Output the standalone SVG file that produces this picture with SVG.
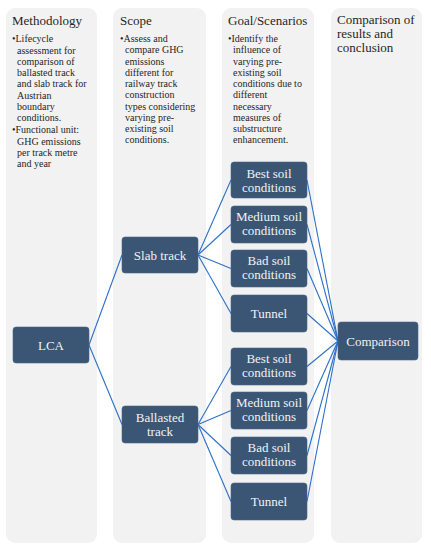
<svg xmlns="http://www.w3.org/2000/svg" width="431" height="550" viewBox="0 0 431 550">
<style>
.col{fill:#F2F2F2}
.hd{font-family:"Liberation Serif",serif;font-size:13px;fill:#262626}
.bl{font-family:"Liberation Serif",serif;font-size:10px;fill:#262626}
.nd{fill:#3A5674;stroke:#4A6684;stroke-width:0.6}
.nt{font-family:"Liberation Serif",serif;font-size:13px;fill:#F2F2F2;text-anchor:middle}
.cn{stroke:#2B70C9;stroke-width:1.1;fill:none}
</style>
<rect width="431" height="550" fill="#FFFFFF"/>
<g id="columns">
<rect class="col" x="6" y="8" width="91" height="535" rx="9"/>
<rect class="col" x="113" y="8" width="93" height="535" rx="9"/>
<rect class="col" x="222" y="8" width="92" height="535" rx="9"/>
<rect class="col" x="331" y="8" width="91" height="535" rx="9"/>
</g>
<g id="headers">
<text class="hd" x="12" y="25">Methodology</text>
<text class="hd" x="120" y="25">Scope</text>
<text class="hd" x="228" y="25">Goal/Scenarios</text>
<text class="hd" x="337" y="24">Comparison of</text>
<text class="hd" x="337" y="38">results and</text>
<text class="hd" x="337" y="52">conclusion</text>
</g>
<g id="methodology-text" class="bl">
<text x="12" y="42">•Lifecycle</text>
<text x="17" y="53.5">assessment for</text>
<text x="17" y="65">comparison of</text>
<text x="17" y="76">ballasted track</text>
<text x="17" y="87.3">and slab track for</text>
<text x="17" y="98.5">Austrian</text>
<text x="17" y="109.7">boundary</text>
<text x="17" y="120.8">conditions.</text>
<text x="12" y="133">•Functional unit:</text>
<text x="17" y="144.5">GHG emissions</text>
<text x="17" y="156">per track metre</text>
<text x="17" y="167">and year</text>
</g>
<g id="scope-text" class="bl">
<text x="120" y="42">•Assess and</text>
<text x="125" y="53.3">compare GHG</text>
<text x="125" y="64.5">emissions</text>
<text x="125" y="75.8">different for</text>
<text x="125" y="87">railway track</text>
<text x="125" y="98.3">construction</text>
<text x="125" y="109.5">types considering</text>
<text x="125" y="120.8">varying pre-</text>
<text x="125" y="132">existing soil</text>
<text x="125" y="143.3">conditions.</text>
</g>
<g id="goal-text" class="bl">
<text x="228" y="42">•Identify the</text>
<text x="233" y="53.3">influence of</text>
<text x="233" y="64.5">varying pre-</text>
<text x="233" y="75.8">existing soil</text>
<text x="233" y="87">conditions due to</text>
<text x="233" y="98.3">different</text>
<text x="233" y="109.5">necessary</text>
<text x="233" y="120.8">measures of</text>
<text x="233" y="132">substructure</text>
<text x="233" y="143.3">enhancement.</text>
</g>
<g id="connectors" class="cn">
<line x1="89" y1="345" x2="122" y2="255"/>
<line x1="89" y1="345" x2="122" y2="424.5"/>
<line x1="198" y1="255" x2="231" y2="180"/>
<line x1="198" y1="255" x2="231" y2="224.5"/>
<line x1="198" y1="255" x2="231" y2="268.5"/>
<line x1="198" y1="255" x2="231" y2="313.5"/>
<line x1="198" y1="424.5" x2="231" y2="366.5"/>
<line x1="198" y1="424.5" x2="231" y2="410.5"/>
<line x1="198" y1="424.5" x2="231" y2="455.5"/>
<line x1="198" y1="424.5" x2="231" y2="501.5"/>
<line x1="307" y1="180" x2="338" y2="341"/>
<line x1="307" y1="224.5" x2="338" y2="341"/>
<line x1="307" y1="268.5" x2="338" y2="341"/>
<line x1="307" y1="313.5" x2="338" y2="341"/>
<line x1="307" y1="366.5" x2="338" y2="341"/>
<line x1="307" y1="410.5" x2="338" y2="341"/>
<line x1="307" y1="455.5" x2="338" y2="341"/>
<line x1="307" y1="501.5" x2="338" y2="341"/>
</g>
<g id="lca"><rect class="nd" x="13" y="327" width="76" height="36" rx="3"/><text class="nt" x="51" y="349.5">LCA</text></g>
<g id="slab"><rect class="nd" x="122" y="237" width="76" height="36" rx="3"/><text class="nt" x="160" y="259.5">Slab track</text></g>
<g id="ballasted"><rect class="nd" x="122" y="406" width="76" height="37" rx="3"/><text class="nt" x="160" y="422">Ballasted</text><text class="nt" x="160" y="436">track</text></g>
<g id="slab-best"><rect class="nd" x="231" y="162" width="76" height="36" rx="3"/><text class="nt" x="269" y="177.5">Best soil</text><text class="nt" x="269" y="191.5">conditions</text></g>
<g id="slab-medium"><rect class="nd" x="231" y="206" width="76" height="37" rx="3"/><text class="nt" x="269" y="221">Medium soil</text><text class="nt" x="269" y="235">conditions</text></g>
<g id="slab-bad"><rect class="nd" x="231" y="250" width="76" height="37" rx="3"/><text class="nt" x="269" y="265">Bad soil</text><text class="nt" x="269" y="279">conditions</text></g>
<g id="slab-tunnel"><rect class="nd" x="231" y="295" width="76" height="37" rx="3"/><text class="nt" x="269" y="318">Tunnel</text></g>
<g id="ballasted-best"><rect class="nd" x="231" y="348" width="76" height="37" rx="3"/><text class="nt" x="269" y="363">Best soil</text><text class="nt" x="269" y="377">conditions</text></g>
<g id="ballasted-medium"><rect class="nd" x="231" y="392" width="76" height="37" rx="3"/><text class="nt" x="269" y="407">Medium soil</text><text class="nt" x="269" y="421">conditions</text></g>
<g id="ballasted-bad"><rect class="nd" x="231" y="437" width="76" height="37" rx="3"/><text class="nt" x="269" y="452">Bad soil</text><text class="nt" x="269" y="466">conditions</text></g>
<g id="ballasted-tunnel"><rect class="nd" x="231" y="483" width="76" height="37" rx="3"/><text class="nt" x="269" y="506">Tunnel</text></g>
<g id="comparison"><rect class="nd" x="338" y="322" width="80" height="38" rx="3"/><text class="nt" x="378" y="345.5">Comparison</text></g>
</svg>
